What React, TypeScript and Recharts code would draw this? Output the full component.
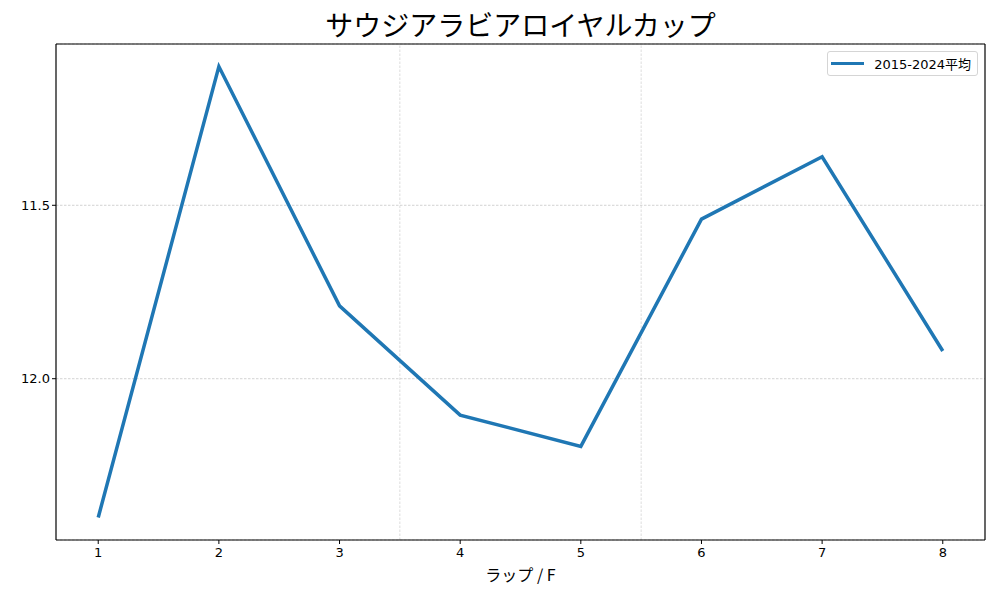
import React from 'react';
import { LineChart, Line, XAxis, YAxis, CartesianGrid, ReferenceLine } from 'recharts';

const laps = [1, 2, 3, 4, 5, 6, 7, 8];
const avgTimes = [12.4, 11.1, 11.79, 12.105, 12.195, 11.54, 11.36, 11.92];
const xTicks = [1, 2, 3, 4, 5, 6, 7, 8];
const yTicks = [11.5, 12.0];
const sectionLines = [3.5, 5.5];
const seriesName = '2015-2024平均';
const title = 'サウジアラビアロイヤルカップ';
const xLabel = 'ラップ / F';

const data = laps.map((lap, i) => ({ lap, value: avgTimes[i] }));

const FONT = '"Noto Sans CJK JP", "DejaVu Sans", sans-serif';
const TICK_FONT = '"DejaVu Sans", "Noto Sans CJK JP", sans-serif';

export default function App() {
  return (
    <div style={{ position: 'absolute', left: 0, top: 0, width: 1000, height: 600, background: '#fff' }}>
      <LineChart
        width={1000}
        height={600}
        data={data}
        margin={{ top: 44, right: 15, bottom: 0, left: 0 }}
      >
        <CartesianGrid vertical={false} stroke="#b5b5b5" strokeDasharray="2.5 1.5" strokeWidth={0.6} />
        {sectionLines.map((x) => (
          <ReferenceLine key={x} x={x} stroke="#c5c5c5" strokeDasharray="2.5 1.5" strokeWidth={0.6} />
        ))}
        <XAxis
          dataKey="lap"
          type="number"
          domain={[0.65, 8.35]}
          ticks={xTicks}
          allowDataOverflow
          height={60}
          axisLine={{ stroke: '#000', strokeWidth: 1.2 }}
          tickLine={{ stroke: '#000' }}
          tickSize={4}
          tick={{ fill: '#000', fontSize: 13, fontFamily: TICK_FONT, dy: 2 }}
          interval={0}
        />
        <YAxis
          type="number"
          reversed
          domain={[11.035, 12.465]}
          ticks={yTicks}
          allowDataOverflow
          width={56}
          axisLine={{ stroke: '#000', strokeWidth: 1.2 }}
          tickLine={{ stroke: '#000' }}
          tickSize={4}
          tickFormatter={(v: number) => v.toFixed(1)}
          tick={{ fill: '#000', fontSize: 13, fontFamily: TICK_FONT }}
        />
        <ReferenceLine x={8.35} stroke="#000" strokeWidth={1.2} />
        <ReferenceLine y={11.035} stroke="#000" strokeWidth={1.2} />
        <Line
          type="linear"
          dataKey="value"
          name={seriesName}
          stroke="#1f77b4"
          strokeWidth={3.5}
          dot={false}
          activeDot={false}
          isAnimationActive={false}
        />
      </LineChart>
      <div
        style={{
          position: 'absolute',
          left: 56,
          width: 929,
          top: 5,
          textAlign: 'center',
          fontFamily: FONT,
          fontSize: 28,
          color: '#000',
          lineHeight: '38px',
        }}
      >
        {title}
      </div>
      <div
        style={{
          position: 'absolute',
          left: 56,
          width: 929,
          top: 563,
          textAlign: 'center',
          fontFamily: FONT,
          fontSize: 16,
          color: '#000',
          lineHeight: '22px',
          whiteSpace: 'pre',
        }}
      >
        {xLabel}
      </div>
      <div
        style={{
          position: 'absolute',
          right: 22,
          top: 51,
          height: 25,
          boxSizing: 'border-box',
          border: '1px solid #d5d5d5',
          borderRadius: 3,
          background: 'rgba(255,255,255,0.8)',
          display: 'flex',
          alignItems: 'center',
          padding: '0 6px 0 3px',
          fontFamily: TICK_FONT,
          fontSize: 13,
          color: '#000',
          whiteSpace: 'nowrap',
        }}
      >
        <span style={{ display: 'inline-block', width: 33, height: 3.5, background: '#1f77b4', marginRight: 10 }} />
        <span>{seriesName}</span>
      </div>
    </div>
  );
}
